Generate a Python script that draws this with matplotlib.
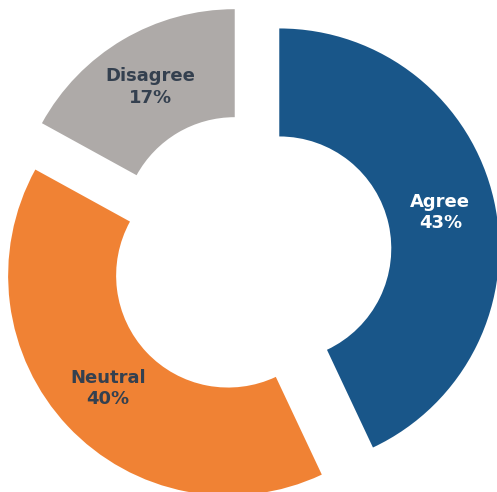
import matplotlib
matplotlib.use("Agg")
import matplotlib.pyplot as plt

categories = ["Agree", "Neutral", "Disagree"]
values = [43, 40, 17]
colors = ["#195689", "#f08234", "#aeaaa8"]
text_colors = ["white", "#34404f", "#34404f"]

W, H = 497, 492
fig = plt.figure(figsize=(W / 100, H / 100), dpi=100)
ax = fig.add_axes([0, 0, 1, 1])

R_OUT = 220
RING = 108
EXPLODE = 30

labels = [f"{c}\n{v}%" for c, v in zip(categories, values)]
wedges, texts = ax.pie(
    values,
    radius=R_OUT,
    startangle=90,
    counterclock=False,
    colors=colors,
    explode=[EXPLODE] * len(values),
    labels=labels,
    labeldistance=0.75,
    wedgeprops=dict(width=RING, linewidth=0),
    textprops=dict(ha="center", va="center", fontsize=13, fontweight="bold",
                   family="DejaVu Sans", multialignment="center", linespacing=1.25),
)
for t, c in zip(texts, text_colors):
    t.set_color(c)

ax.set_xlim(-250, W - 250)
ax.set_ylim(-(H - 255), 255)
ax.set_aspect("equal")
ax.axis("off")

fig.savefig("out.png", dpi=100)
